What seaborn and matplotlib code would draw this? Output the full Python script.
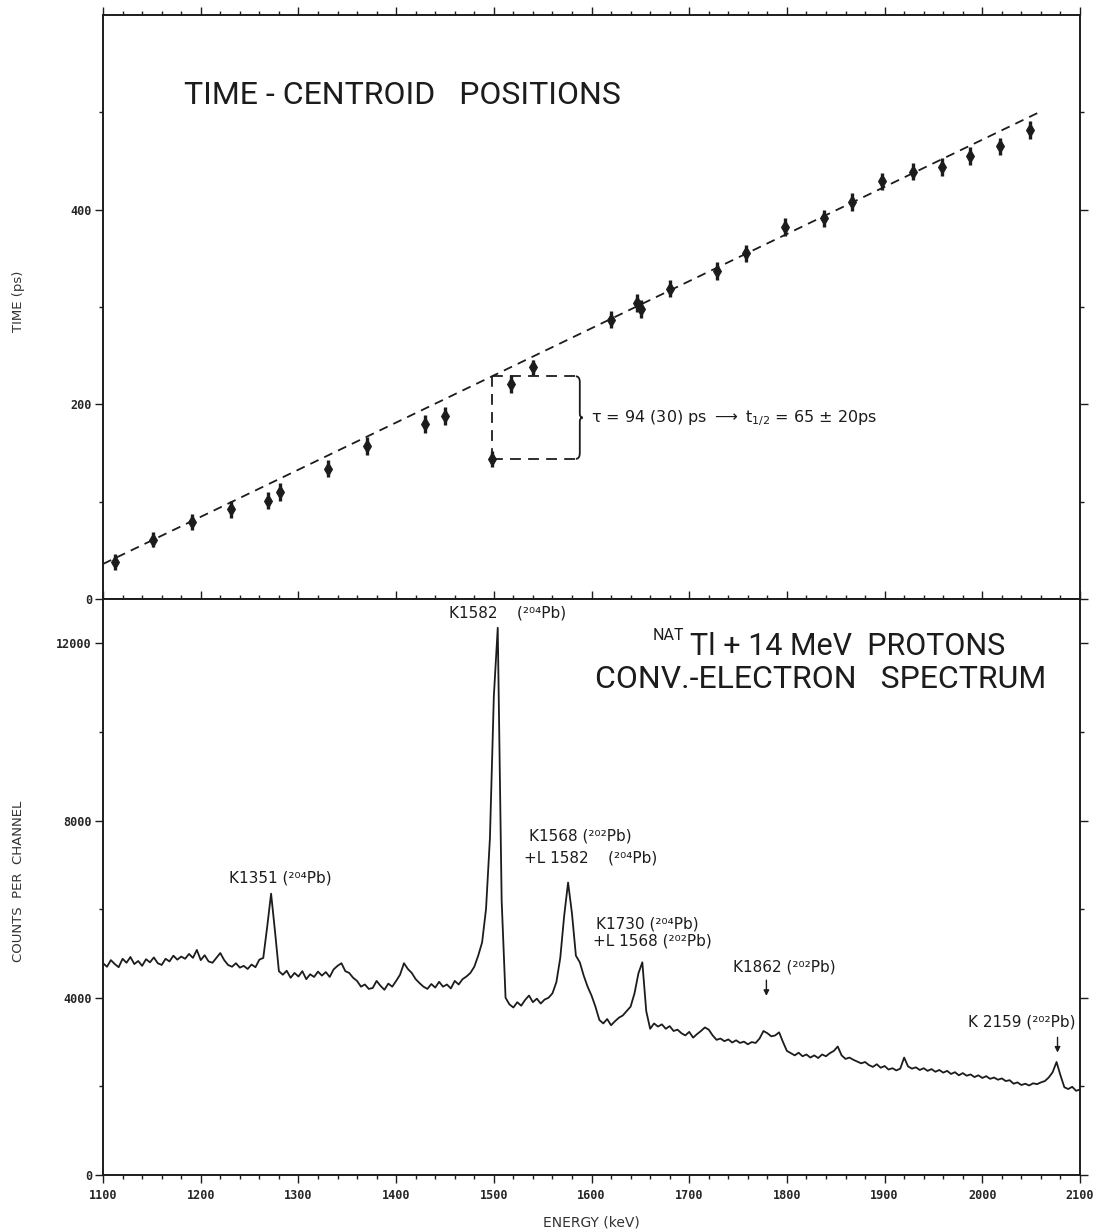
import numpy as np
import pandas as pd
import matplotlib
matplotlib.use("Agg")
import matplotlib.pyplot as plt
import seaborn as sns
from matplotlib.path import Path
from matplotlib.patches import PathPatch
from matplotlib.ticker import MultipleLocator, FixedLocator

# ------------------------------------------------------------------ data
# Top panel: time-centroid positions (energy in keV, time in ps)
centroid_energy = [1112, 1151, 1191, 1231, 1269, 1281, 1330, 1370, 1430, 1450,
                   1498, 1518, 1540, 1620, 1647, 1651, 1680, 1728, 1758, 1798,
                   1838, 1867, 1897, 1929, 1959, 1987, 2018, 2049]
centroid_time = [38, 61, 79, 92, 101, 110, 134, 157, 180, 188,
                 144, 221, 238, 287, 304, 298, 319, 337, 355, 382,
                 391, 408, 429, 439, 444, 455, 465, 482]
centroid_err = [8, 8, 8, 9, 9, 9, 9, 9, 9, 9,
                8, 9, 8, 9, 9, 9, 9, 9, 9, 9,
                9, 9, 9, 9, 9, 9, 9, 9]
fit_energy = [1100, 2058]
fit_time = [36, 500]
special_index = 10          # K1582 point (the delayed one)
box_right_energy = 1587

# Bottom panel: conversion-electron spectrum (4 keV channels)
spectrum_energy = np.arange(1100, 2101, 4)
spectrum_counts = [
    4780, 4700, 4850, 4760, 4690, 4880, 4790, 4920, 4760, 4830,
    4720, 4870, 4800, 4910, 4780, 4740, 4880, 4820, 4950, 4860,
    4930, 4880, 4990, 4900, 5080, 4850, 4960, 4820, 4790, 4900,
    5010, 4850, 4740, 4700, 4780, 4680, 4720, 4650, 4750, 4690,
    4860, 4900, 5600, 6350, 5500, 4600, 4520, 4610, 4450, 4560,
    4480, 4600, 4420, 4530, 4470, 4590, 4500, 4580, 4470, 4640,
    4720, 4780, 4600, 4560, 4450, 4380, 4250, 4300, 4200, 4220,
    4380, 4270, 4180, 4320, 4250, 4380, 4520, 4780, 4650, 4560,
    4420, 4330, 4250, 4200, 4310, 4230, 4360, 4250, 4300, 4210,
    4380, 4300, 4420, 4480, 4560, 4700, 4950, 5250, 6000, 7600,
    10800, 12350, 6200, 4000, 3850, 3780, 3900, 3820, 3950, 4050,
    3900, 3980, 3870, 3960, 4000, 4100, 4350, 4900, 5850, 6600,
    5900, 4950, 4800, 4500, 4250, 4050, 3800, 3500, 3420, 3520,
    3380, 3470, 3550, 3600, 3700, 3800, 4100, 4550, 4800, 3700,
    3300, 3420, 3350, 3400, 3300, 3360, 3250, 3280, 3200, 3150,
    3230, 3100, 3180, 3250, 3330, 3280, 3150, 3050, 3080, 3020,
    3060, 2990, 3040, 2980, 3010, 2950, 3000, 2980, 3080, 3250,
    3200, 3130, 3150, 3220, 3000, 2800, 2750, 2700, 2760, 2680,
    2720, 2650, 2700, 2640, 2720, 2680, 2750, 2800, 2900, 2700,
    2620, 2650, 2600, 2560, 2520, 2550, 2480, 2440, 2500, 2420,
    2460, 2380, 2410, 2360, 2400, 2650, 2450, 2400, 2430, 2370,
    2410, 2350, 2390, 2330, 2370, 2310, 2350, 2280, 2320, 2250,
    2300, 2240, 2270, 2210, 2250, 2190, 2230, 2170, 2200, 2150,
    2180, 2120, 2140, 2060, 2090, 2030, 2060, 2020, 2070, 2050,
    2090, 2120, 2200, 2320, 2550, 2250, 1980, 1940, 1990, 1900,
    1930,
]

x_ticks = list(range(1100, 2101, 100))
time_ticks = [0, 200, 400]
count_ticks = [0, 4000, 8000, 12000]

# ------------------------------------------------------------------ style
sns.set_theme(style="ticks")
plt.rcParams['font.family'] = ['DejaVu Sans']
ink = "#1c1c1c"

fig = plt.figure(figsize=(10.94, 12.31), dpi=100)
L, W = 0.0942, 0.8930
ax1 = fig.add_axes([L, 0.5134, W, 0.4744])
ax2 = fig.add_axes([L, 0.0455, W, 0.4679])

for ax in (ax1, ax2):
    ax.set_facecolor("white")
    for s in ax.spines.values():
        s.set_color(ink)
        s.set_linewidth(1.4)
        s.set_visible(True)
    ax.set_xlim(1100, 2100)
    ax.xaxis.set_major_locator(FixedLocator(x_ticks))
    ax.xaxis.set_minor_locator(MultipleLocator(20))

tick_font = dict(family="DejaVu Sans Mono", weight="bold", size=8.5)

# ---------------- top panel
ax1.set_ylim(0, 600)
ax1.set_yticks(time_ticks)
ax1.set_yticklabels([str(v) for v in time_ticks], **tick_font)
ax1.yaxis.set_minor_locator(FixedLocator([100, 300, 500]))
ax1.tick_params(axis='x', which='both', top=True, bottom=False,
                labelbottom=False, labeltop=False, direction='out',
                color=ink, width=1.0)
ax1.tick_params(axis='x', which='major', length=6)
ax1.tick_params(axis='x', which='minor', length=3)
ax1.tick_params(axis='y', which='both', left=True, right=True,
                direction='out', color=ink, width=1.0, pad=2)
ax1.tick_params(axis='y', which='major', length=6)
ax1.tick_params(axis='y', which='minor', length=3)

fit_df = pd.DataFrame({"energy": fit_energy, "time": fit_time})
sns.lineplot(data=fit_df, x="energy", y="time", ax=ax1, color=ink,
             lw=1.3, legend=False)
ax1.lines[-1].set_dashes((5, 3.5))

ax1.errorbar(centroid_energy, centroid_time, yerr=centroid_err, fmt='none',
             ecolor=ink, elinewidth=2.4, capsize=0, zorder=3)
cdf = pd.DataFrame({"energy": centroid_energy, "time": centroid_time})
sns.scatterplot(data=cdf, x="energy", y="time", ax=ax1, marker='d',
                s=45, color=ink, edgecolor=ink, linewidth=0.8, zorder=4,
                legend=False)

# dashed box around the delayed K1582 point
e0 = centroid_energy[special_index]
t_low = centroid_time[special_index]
slope = (fit_time[1] - fit_time[0]) / (fit_energy[1] - fit_energy[0])
t_high = fit_time[0] + slope * (e0 - fit_energy[0])
xr = box_right_energy
box_kw = dict(color=ink, lw=1.3, dashes=(6, 4))
ax1.plot([e0, e0], [t_low, t_high], **box_kw)
ax1.plot([e0, xr - 3], [t_high, t_high], **box_kw)
ax1.plot([e0, xr - 3], [t_low, t_low], **box_kw)
mid = 0.5 * (t_low + t_high)
verts = [(xr - 3, t_high), (xr + 1, t_high), (xr + 1, t_high - 6),
         (xr + 1, mid + 4), (xr + 1, mid), (xr + 4, mid),
         (xr + 1, mid), (xr + 1, mid - 4),
         (xr + 1, t_low + 6), (xr + 1, t_low), (xr - 3, t_low)]
codes = [Path.MOVETO, Path.CURVE3, Path.CURVE3,
         Path.LINETO, Path.CURVE3, Path.CURVE3,
         Path.CURVE3, Path.CURVE3,
         Path.LINETO, Path.CURVE3, Path.CURVE3]
ax1.add_patch(PathPatch(Path(verts, codes), fill=False, edgecolor=ink, lw=1.3))
ax1.text(xr + 12, mid, r"τ = 94 (30) ps $\longrightarrow$ t$_{1/2}$ = 65 ± 20ps",
         fontsize=11.5, color=ink, va='center', ha='left')

ax1.text(1406, 517, "TIME - CENTROID   POSITIONS", fontsize=23,
         color=ink, ha='center', va='center', family='Roboto')

ax1.set_xlabel("")
ax1.set_ylabel("TIME (ps)", fontsize=9.5, color="#333333")
ax1.yaxis.set_label_coords(-0.08, 0.51)

# ---------------- bottom panel
ax2.set_ylim(0, 13000)
ax2.set_yticks(count_ticks)
ax2.set_yticklabels([str(v) for v in count_ticks], **tick_font)
ax2.yaxis.set_minor_locator(FixedLocator([2000, 6000, 10000]))
ax2.set_xticks(x_ticks)
ax2.set_xticklabels([str(v) for v in x_ticks], **tick_font)
ax2.tick_params(axis='x', which='both', top=True, bottom=True,
                labelbottom=True, labeltop=False, direction='out',
                color=ink, width=1.0, pad=4)
ax2.tick_params(axis='x', which='major', length=6)
ax2.tick_params(axis='x', which='minor', length=3)
ax2.tick_params(axis='y', which='both', left=True, right=True,
                direction='out', color=ink, width=1.0, pad=2)
ax2.tick_params(axis='y', which='major', length=6)
ax2.tick_params(axis='y', which='minor', length=3)

spec_df = pd.DataFrame({"energy": spectrum_energy, "counts": spectrum_counts})
sns.lineplot(data=spec_df, x="energy", y="counts", ax=ax2, color=ink,
             lw=1.3, legend=False)

ax2.set_xlabel("ENERGY (keV)", fontsize=10, color="#333333", labelpad=10)
ax2.set_ylabel("COUNTS  PER  CHANNEL", fontsize=9.5, color="#333333")
ax2.yaxis.set_label_coords(-0.08, 0.51)

lab = dict(fontsize=11, color=ink)
ax2.text(1514, 12680, "K1582    (²⁰⁴Pb)", ha='center', va='center', **lab)
ax2.text(1281, 6710, "K1351 (²⁰⁴Pb)", ha='center', va='center', **lab)
ax2.text(1536, 7660, "K1568 (²⁰²Pb)", ha='left', va='center', **lab)
ax2.text(1531, 7160, "+L 1582    (²⁰⁴Pb)", ha='left', va='center', **lab)
ax2.text(1605, 5670, "K1730 (²⁰⁴Pb)", ha='left', va='center', **lab)
ax2.text(1602, 5270, "+L 1568 (²⁰²Pb)", ha='left', va='center', **lab)
ax2.text(1797, 4690, "K1862 (²⁰²Pb)", ha='center', va='center', **lab)
ax2.text(2040, 3460, "K 2159 (²⁰²Pb)", ha='center', va='center', **lab)
arrow = dict(arrowstyle='-|>', color=ink, lw=1.0, mutation_scale=8)
ax2.annotate("", xy=(1779, 3980), xytext=(1779, 4460), arrowprops=arrow)
ax2.annotate("", xy=(2077, 2700), xytext=(2077, 3170), arrowprops=arrow)

ax2.text(1862, 11930, "Tl + 14 MeV  PROTONS", fontsize=22,
         color=ink, ha='center', va='center', family='Roboto')
ax2.text(1695, 12180, "NAT", fontsize=11.5,
         color=ink, ha='right', va='center', family='Roboto')
ax2.text(1835, 11190, "CONV.-ELECTRON   SPECTRUM", fontsize=23,
         color=ink, ha='center', va='center', family='Roboto')

fig.savefig("out.png", dpi=100, facecolor="white")
